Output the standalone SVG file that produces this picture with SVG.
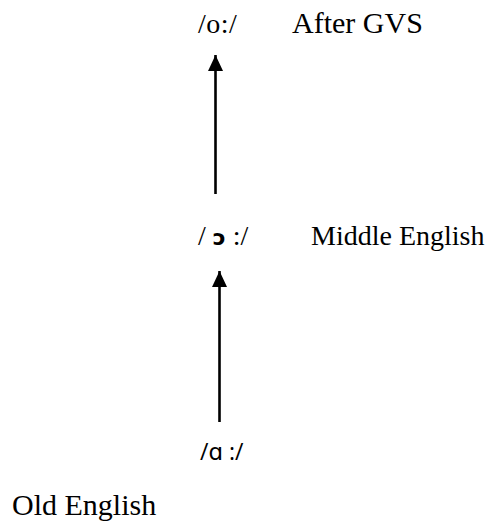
<svg xmlns="http://www.w3.org/2000/svg" width="488" height="522" viewBox="0 0 488 522">
<style>
.lbl{font-family:"Liberation Serif","Times New Roman",serif;font-size:30px;fill:#000}
.ph{font-family:"Liberation Serif","Times New Roman",serif;font-size:28px;fill:#000}
.phs{font-family:"Open Sans","DejaVu Sans",sans-serif;font-size:23px;fill:#000}
.conn{stroke:#000;stroke-width:2.6;fill:none}
</style>
<defs>
<marker id="ah" viewBox="0 0 16 15" refX="16" refY="7.5" markerWidth="16" markerHeight="15" markerUnits="userSpaceOnUse" orient="auto">
<path d="M0 0 L16 7.5 L0 15 Z" fill="#000"/>
</marker>
</defs>
<rect width="488" height="522" fill="#fff"/>
<g id="connectors">
<line class="conn" x1="215.5" y1="194" x2="215.5" y2="55" marker-end="url(#ah)"/>
<line class="conn" x1="219.5" y1="422" x2="219.5" y2="271" marker-end="url(#ah)"/>
</g>
<g id="after-gvs">
<text class="ph" x="198" y="33" letter-spacing="0.5">/o:/</text>
<text class="lbl" x="292" y="33">After GVS</text>
</g>
<g id="middle-english">
<text class="ph" x="198" y="245">/ <tspan font-family="'DejaVu Sans',sans-serif" font-weight="bold" font-size="22">ɔ</tspan> :/</text>
<text class="lbl" x="311" y="245" style="font-size:28px">Middle English</text>
</g>
<g id="old-english">
<text class="phs" x="200" y="460">/ɑ :/</text>
<text class="lbl" x="12" y="515">Old English</text>
</g>
</svg>
